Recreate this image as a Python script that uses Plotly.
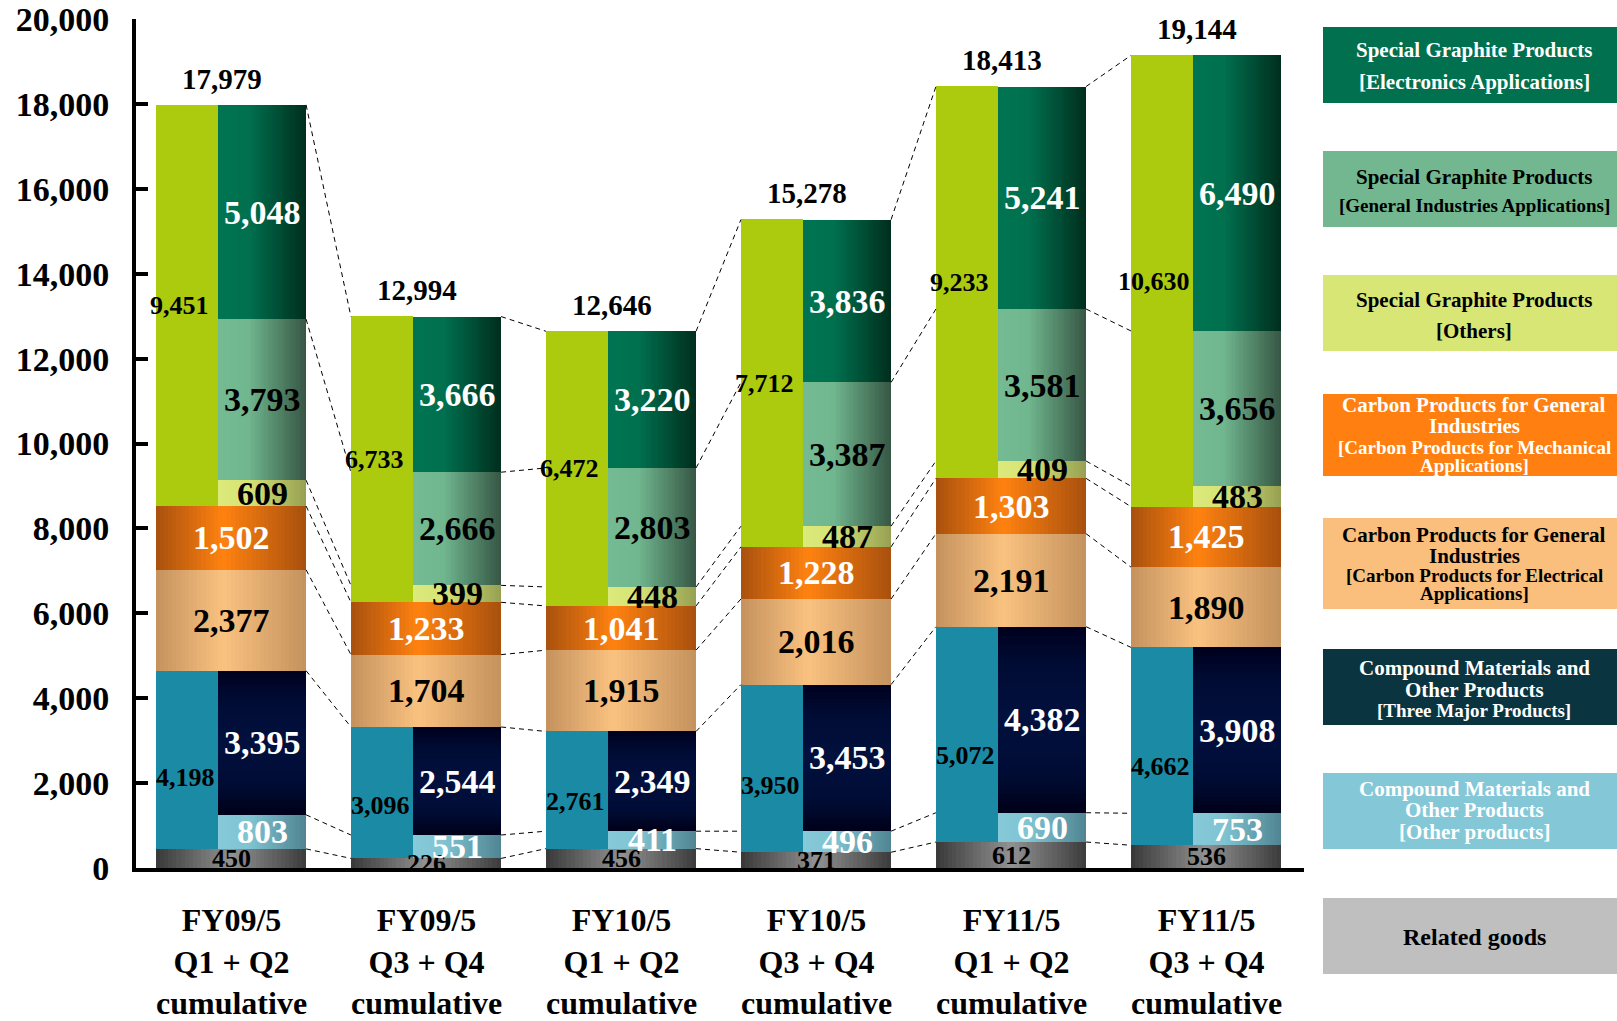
import plotly.graph_objects as go

# ---- data -------------------------------------------------------------
fiscal_years = ["FY09/5", "FY09/5", "FY10/5", "FY10/5", "FY11/5", "FY11/5"]
half_years = ["Q1 + Q2", "Q3 + Q4", "Q1 + Q2", "Q3 + Q4", "Q1 + Q2", "Q3 + Q4"]

related_goods = [450, 226, 456, 371, 612, 536]
compound_total = [4198, 3096, 2761, 3950, 5072, 4662]
compound_other = [803, 551, 411, 496, 690, 753]
compound_three_major = [3395, 2544, 2349, 3453, 4382, 3908]
carbon_electrical = [2377, 1704, 1915, 2016, 2191, 1890]
carbon_mechanical = [1502, 1233, 1041, 1228, 1303, 1425]
graphite_total = [9451, 6733, 6472, 7712, 9233, 10630]
graphite_others = [609, 399, 448, 487, 409, 483]
graphite_general = [3793, 2666, 2803, 3387, 3581, 3656]
graphite_electronics = [5048, 3666, 3220, 3836, 5241, 6490]
net_sales_total = [17979, 12994, 12646, 15278, 18413, 19144]

y_ticks = list(range(0, 20001, 2000))

legend_entries = [
    (["Special Graphite Products", "[Electronics Applications]"], [21, 21]),
    (["Special Graphite Products", "[General Industries Applications]"], [21, 19]),
    (["Special Graphite Products", "[Others]"], [21, 21]),
    (["Carbon Products for General", "Industries", "[Carbon Products for Mechanical", "Applications]"], [21, 21, 19, 19]),
    (["Carbon Products for General", "Industries", "[Carbon Products for Electrical", "Applications]"], [21, 21, 19, 19]),
    (["Compound Materials and", "Other Products", "[Three Major Products]"], [21, 21, 19]),
    (["Compound Materials and", "Other Products", "[Other products]"], [21, 21, 21]),
    (["Related goods"], [24]),
]

# ---- layout geometry --------------------------------------------------
FIG_W, FIG_H = 1617, 1021
M_L, M_T = 136, 19
PLOT_W, PLOT_H = 1168, 849
M_R = FIG_W - M_L - PLOT_W
M_B = FIG_H - M_T - PLOT_H
PERIOD_PX = 195                      # pixel spacing between period centres
X_MIN = -0.5 + (M_L - 133.5) / PERIOD_PX
X_MAX = X_MIN + PLOT_W / PERIOD_PX

HALF = 0.385            # half width of a period's bar block
LEFT_W = 0.32           # width of the left (segment total) column
RIGHT_W = 2 * HALF - LEFT_W
LEFT_OFF = -HALF + LEFT_W / 2
RIGHT_OFF = -HALF + LEFT_W + RIGHT_W / 2

FONT = "Liberation Serif"

n = len(net_sales_total)
centers = list(range(n))


def px_to_paper_x(px):
    return (px - M_L) / PLOT_W


def px_to_paper_y(py):
    return (M_T + PLOT_H - py) / PLOT_H


def mix(stops, t):
    for (t0, c0), (t1, c1) in zip(stops, stops[1:]):
        if t <= t1:
            f = 0 if t1 == t0 else (t - t0) / (t1 - t0)
            c = [round(a + (b - a) * f) for a, b in zip(c0, c1)]
            return "rgb({},{},{})".format(*c)
    return "rgb({},{},{})".format(*stops[-1][1])


# colour ramps (position across the bar -> rgb)
GRAD_ELECTRONICS = [(0, (0, 116, 82)), (0.35, (0, 112, 78)), (1, (0, 46, 30))]
GRAD_GENERAL = [(0, (116, 186, 146)), (0.35, (112, 182, 142)), (1, (54, 86, 68))]
GRAD_OTHERS = [(0, (220, 234, 124)), (0.35, (214, 228, 118)), (1, (150, 160, 82))]
GRAD_CMP_OTHER = [(0, (134, 202, 218)), (0.35, (128, 196, 210)), (1, (80, 132, 146))]
GRAD_MECH = [(0, (168, 80, 14)), (0.45, (255, 130, 16)), (1, (168, 80, 14))]
GRAD_ELEC = [(0, (196, 146, 94)), (0.45, (250, 194, 128)), (1, (196, 146, 94))]
GRAD_RELATED = [(0, (56, 56, 56)), (0.5, (146, 146, 146)), (1, (60, 60, 60))]
GRAD_NAVY_V = [(0, (0, 0, 24)), (0.2, (0, 12, 52)), (0.5, (2, 16, 62)),
               (0.8, (0, 12, 52)), (1, (0, 0, 30))]

fig = go.Figure()


def h_gradient_bars(offset, width, bases, heights, stops, strips=36):
    xs, ys, bs, ws, cs = [], [], [], [], []
    sw = width / strips
    for c, b, h in zip(centers, bases, heights):
        left = c + offset - width / 2
        for k in range(strips):
            xs.append(left + (k + 0.5) * sw)
            ys.append(h)
            bs.append(b)
            ws.append(sw * 1.15 if k < strips - 1 else sw)
            cs.append(mix(stops, (k + 0.5) / strips))
    fig.add_trace(go.Bar(x=xs, y=ys, base=bs, width=ws,
                         marker=dict(color=cs, line=dict(width=0)),
                         hoverinfo="skip", showlegend=False))


def v_gradient_bars(offset, width, bases, heights, stops, slices=40):
    xs, ys, bs, cs = [], [], [], []
    for c, b, h in zip(centers, bases, heights):
        sh = h / slices
        for k in range(slices):
            xs.append(c + offset)
            bs.append(b + k * sh)
            ys.append(sh * 1.2 if k < slices - 1 else sh)
            cs.append(mix(stops, (k + 0.5) / slices))
    fig.add_trace(go.Bar(x=xs, y=ys, base=bs, width=width,
                         marker=dict(color=cs, line=dict(width=0)),
                         hoverinfo="skip", showlegend=False))


def solid_bars(offset, width, bases, heights, color):
    fig.add_trace(go.Bar(x=[c + offset for c in centers], y=heights, base=bases,
                         width=width, marker=dict(color=color, line=dict(width=0)),
                         hoverinfo="skip", showlegend=False))


# stacking bases
b_related = [0] * n
b_cmp_other = related_goods
b_cmp_three = [r + o for r, o in zip(related_goods, compound_other)]
b_elec = [r + c for r, c in zip(related_goods, compound_total)]
b_mech = [b + e for b, e in zip(b_elec, carbon_electrical)]
b_graph = [b + m for b, m in zip(b_mech, carbon_mechanical)]
b_gen = [b + o for b, o in zip(b_graph, graphite_others)]
b_elx = [b + g for b, g in zip(b_gen, graphite_general)]
tops = [b + e for b, e in zip(b_elx, graphite_electronics)]

# bars
h_gradient_bars(0, 2 * HALF, b_related, related_goods, GRAD_RELATED)
solid_bars(LEFT_OFF, LEFT_W, b_cmp_other, compound_total, "#1a8aa5")
h_gradient_bars(RIGHT_OFF, RIGHT_W, b_cmp_other, compound_other, GRAD_CMP_OTHER)
v_gradient_bars(RIGHT_OFF, RIGHT_W, b_cmp_three, compound_three_major, GRAD_NAVY_V)
h_gradient_bars(0, 2 * HALF, b_elec, carbon_electrical, GRAD_ELEC)
h_gradient_bars(0, 2 * HALF, b_mech, carbon_mechanical, GRAD_MECH)
solid_bars(LEFT_OFF, LEFT_W, b_graph, graphite_total, "#accb0e")
h_gradient_bars(RIGHT_OFF, RIGHT_W, b_graph, graphite_others, GRAD_OTHERS)
h_gradient_bars(RIGHT_OFF, RIGHT_W, b_gen, graphite_general, GRAD_GENERAL)
h_gradient_bars(RIGHT_OFF, RIGHT_W, b_elx, graphite_electronics, GRAD_ELECTRONICS)

# dashed connectors between neighbouring periods
levels = [related_goods, b_cmp_three, b_elec, b_mech, b_graph, b_gen, b_elx, tops]
lx, ly = [], []
for lev in levels:
    for i in range(n - 1):
        lx += [centers[i] + HALF, centers[i + 1] - HALF, None]
        ly += [lev[i], lev[i + 1], None]
fig.add_trace(go.Scatter(x=lx, y=ly, mode="lines",
                         line=dict(color="black", width=1, dash="5px,4px"),
                         hoverinfo="skip", showlegend=False))

# value labels
ann = []


def label(x, y, text, size, color, xshift=0, yanchor="middle", yshift=0):
    ann.append(dict(x=x, y=y, xref="x", yref="y", text=text, showarrow=False,
                    xshift=xshift, yshift=yshift, yanchor=yanchor,
                    font=dict(family=FONT, size=size, color=color, weight="bold")))


def fmt(v):
    return f"{v:,}"


for i, c in enumerate(centers):
    label(c, related_goods[i] / 2, fmt(related_goods[i]), 26, "black")
    label(c + RIGHT_OFF, b_cmp_other[i] + compound_other[i] / 2, fmt(compound_other[i]), 34, "white")
    label(c + RIGHT_OFF, b_cmp_three[i] + compound_three_major[i] / 2, fmt(compound_three_major[i]), 34, "white")
    label(c + LEFT_OFF, b_cmp_other[i] + compound_total[i] * 0.4, fmt(compound_total[i]), 26, "black", xshift=-2)
    label(c, b_elec[i] + carbon_electrical[i] / 2, fmt(carbon_electrical[i]), 34, "black")
    label(c, b_mech[i] + carbon_mechanical[i] / 2, fmt(carbon_mechanical[i]), 34, "white")
    label(c + LEFT_OFF, b_graph[i] + graphite_total[i] / 2, fmt(graphite_total[i]), 26, "black", xshift=-8)
    label(c + RIGHT_OFF, b_graph[i] + graphite_others[i] / 2, fmt(graphite_others[i]), 34, "black")
    label(c + RIGHT_OFF, b_gen[i] + graphite_general[i] / 2, fmt(graphite_general[i]), 34, "black")
    label(c + RIGHT_OFF, b_elx[i] + graphite_electronics[i] / 2, fmt(graphite_electronics[i]), 34, "white")
    label(c, net_sales_total[i], fmt(net_sales_total[i]), 29, "black", xshift=-9,
          yanchor="bottom", yshift=8)
    # period caption under the axis
    ann.append(dict(x=c, y=px_to_paper_y(962), xref="x", yref="paper",
                    text=f"{fiscal_years[i]}<br>{half_years[i]}<br>cumulative",
                    showarrow=False, yanchor="middle",
                    font=dict(family=FONT, size=32, color="black", weight="bold")))

# legend boxes on the right
legend_boxes = [
    ((27, 103), "#00704e", "white", [50, 82]),
    ((151, 227), "#72b78f", "black", [177, 205]),
    ((275, 351), "#d8e676", "black", [300, 331]),
    ((394, 476), "#ff7f10", "white", [405, 426, 447, 466]),
    ((518, 609), "#fabf7c", "black", [535, 556, 575, 594]),
    ((649, 725), "#0a3540", "white", [668, 690, 710]),
    ((773, 849), "#84c8d8", "white", [789, 810, 832]),
    ((898, 974), "#bfbfbf", "black", [937]),
]
shapes = []
for (lines, sizes), ((y0, y1), fill, tcol, ys) in zip(legend_entries, legend_boxes):
    shapes.append(dict(type="rect", xref="paper", yref="paper",
                       x0=px_to_paper_x(1323), x1=px_to_paper_x(1622),
                       y0=px_to_paper_y(y1), y1=px_to_paper_y(y0),
                       fillcolor=fill, line=dict(width=0), layer="above"))
    for text, size, yy in zip(lines, sizes, ys):
        ann.append(dict(x=px_to_paper_x(1474), y=px_to_paper_y(yy), xref="paper", yref="paper",
                        text=text, showarrow=False, xanchor="center", yanchor="middle",
                        font=dict(family=FONT, size=size, color=tcol, weight="bold")))

fig.update_layout(
    width=FIG_W, height=FIG_H,
    margin=dict(l=M_L, r=M_R, t=M_T, b=M_B, pad=0, autoexpand=False),
    barmode="overlay", bargap=0,
    plot_bgcolor="white", paper_bgcolor="white",
    annotations=ann, shapes=shapes,
    showlegend=False,
)
fig.update_xaxes(range=[X_MIN, X_MAX], showline=True, linewidth=4, linecolor="black",
                 showticklabels=False, ticks="", showgrid=False, zeroline=False,
                 automargin=False)
fig.update_yaxes(range=[0, 20000], tickvals=y_ticks, tickformat=",d",
                 showline=True, linewidth=4, linecolor="black",
                 ticks="inside", ticklen=12, tickwidth=4, tickcolor="black",
                 ticklabelstandoff=16, automargin=False,
                 tickfont=dict(family=FONT, size=34, color="black", weight="bold"),
                 showgrid=False, zeroline=False)

fig.write_html("out.html")
